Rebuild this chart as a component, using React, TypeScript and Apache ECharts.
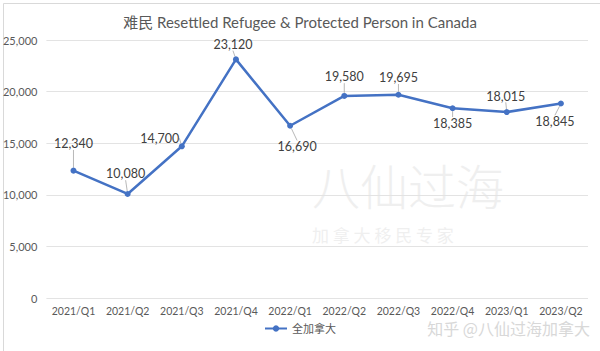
import React, { useEffect, useRef } from "react";
import * as echarts from "echarts";

const categories = ["2021/Q1", "2021/Q2", "2021/Q3", "2021/Q4", "2022/Q1", "2022/Q2", "2022/Q3", "2022/Q4", "2023/Q1", "2023/Q2"];
const values = [12340, 10080, 14700, 23120, 16690, 19580, 19695, 18385, 18015, 18845];
const seriesName = "全加拿大";
const titleText = "难民 Resettled Refugee & Protected Person in Canada";
const watermark = "知乎 @八仙过海加拿大";

// label offsets relative to the data point (style only)
const labelOffsets: [number, number][] = [
  [0, -27], [-2, -20], [-22, -8], [-3, -15], [7, 21],
  [0, -19], [0, -17], [0, 15], [-1, -16], [-6, 18],
];

const FONT = "Lato, 'Noto Sans CJK SC', sans-serif";

export default function App() {
  const ref = useRef<HTMLDivElement>(null);
  useEffect(() => {
    if (!ref.current) return;
    const chart = echarts.init(ref.current, undefined, { renderer: "svg" });
    chart.setOption({
      animation: false,
      backgroundColor: "#ffffff",
      textStyle: { fontFamily: FONT },
      title: {
        text: titleText,
        left: "center",
        top: 9,
        textStyle: { fontFamily: FONT, fontSize: 15, fontWeight: "normal", color: "#595959" },
      },
      graphic: [
        {
          type: "rect",
          left: 1,
          top: 1,
          shape: { width: 597, height: 348 },
          style: { fill: "none", stroke: "#d9d9d9", lineWidth: 1 },
          silent: true,
        },
        {
          type: "text",
          left: 312,
          top: 160,
          z: -1,
          style: { text: "八仙过海", fontSize: 48, lineHeight: 48, fill: "#efefef", fontFamily: "'Noto Sans CJK SC'", fontWeight: 300 },
          silent: true,
        },
        {
          type: "text",
          left: 312,
          top: 226,
          z: -1,
          style: { text: "加 拿 大 移 民 专 家", fontSize: 17, lineHeight: 17, fill: "#efefef", fontFamily: "'Noto Sans CJK SC'" },
          silent: true,
        },
        {
          type: "text",
          right: 10,
          top: 320,
          z: 10,
          style: { text: watermark, fontSize: 16, lineHeight: 16, fill: "#d8d8d8", fontFamily: "'Noto Sans CJK SC'" },
          silent: true,
        },
      ],
      legend: {
        bottom: 12,
        left: "center",
        itemWidth: 22,
        itemHeight: 8,
        itemGap: 6,
        textStyle: { fontSize: 11, color: "#595959", fontFamily: FONT },
        data: [{ name: seriesName }],
      },
      grid: { left: 45, right: 12, top: 40, bottom: 53, containLabel: false },
      xAxis: {
        type: "category",
        data: categories,
        boundaryGap: true,
        axisLine: { show: false },
        axisTick: { show: false },
        axisLabel: { interval: 0, fontSize: 10.5, color: "#595959", margin: 8, fontFamily: FONT },
      },
      yAxis: {
        type: "value",
        min: 0,
        max: 25000,
        interval: 5000,
        axisLine: { show: false },
        axisTick: { show: false },
        axisLabel: {
          fontSize: 11,
          color: "#595959",
          margin: 9,
          fontFamily: FONT,
          formatter: (v: number) => v.toLocaleString("en-US"),
        },
        splitLine: { lineStyle: { color: "#e3e3e3", width: 1 } },
      },
      series: [
        {
          name: seriesName,
          type: "line",
          data: values,
          symbol: "circle",
          symbolSize: 6,
          itemStyle: { color: "#4472C4" },
          lineStyle: { color: "#4472C4", width: 2.5 },
          label: {
            show: true,
            position: "inside",
            fontSize: 12.5,
            color: "#404040",
            fontFamily: FONT,
            formatter: (p: any) => Number(p.value).toLocaleString("en-US"),
          },
          labelLine: { show: true, lineStyle: { color: "#a6a6a6", width: 0.8 } },
          labelLayout: (p: any) => {
            const o = labelOffsets[p.dataIndex] || [0, -15];
            return { dx: o[0], dy: o[1] };
          },
        },
      ],
    });
    return () => chart.dispose();
  }, []);
  return (
    <div
      ref={ref}
      style={{ position: "fixed", left: 0, top: 0, width: 600, height: 351 }}
    />
  );
}
